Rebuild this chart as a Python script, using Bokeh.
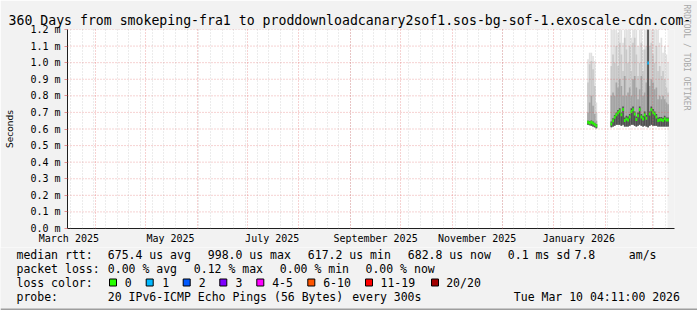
import pandas as pd
from bokeh.plotting import figure
from bokeh.layouts import column
from bokeh.models import (Range1d, FixedTicker, Grid, Title, ColumnDataSource, PrintfTickFormatter,
                          BoxAnnotation)
from bokeh.core.properties import value
from bokeh.embed import file_html
from bokeh.resources import INLINE

# ---------------- data ----------------
END = "2026-03-10 04:11:00"
SPAN_DAYS = 360

title_text = "360 Days from smokeping-fra1 to proddownloadcanary2sof1.sos-bg-sof-1.exoscale-cdn.com-"
watermark = "RRDTOOL / TOBI OETIKER"
y_title = "Seconds"

x_label_months = ["2025-03-01", "2025-05-01", "2025-07-01", "2025-09-01", "2025-11-01", "2026-01-01"]
x_label_texts = ["March 2025", "May 2025", "July 2025", "September 2025", "November 2025", "January 2026"]
y_ticks = [0.0, 0.1, 0.2, 0.3, 0.4, 0.5, 0.6, 0.7, 0.8, 0.9, 1.0, 1.1, 1.2]

# cluster A: Jan 21 - Jan 26 2026 (daily, values in ms)
days_a = ["2026-01-21", "2026-01-22", "2026-01-23", "2026-01-24", "2026-01-25", "2026-01-26"]
median_a = [0.640, 0.636, 0.641, 0.634, 0.627, 0.620]
loss_a = [0, 0, 0, 0, 0, 0]
lo_a = [0.625, 0.622, 0.620, 0.615, 0.610, 0.605]
dark_a = [0.650, 0.648, 0.652, 0.645, 0.638, 0.630]
mid_a = [0.700, 0.760, 0.800, 0.740, 0.690, 0.650]
light_a = [0.880, 0.990, 1.010, 0.960, 0.860, 0.700]
hi_a = [1.020, 1.060, 1.060, 1.040, 1.010, 0.760]

# cluster B: Feb 4 - Mar 10 2026 (daily, values in ms)
first_day_b = "2026-02-04"
median_b = [0.630, 0.650, 0.671, 0.686, 0.698, 0.708, 0.686, 0.718, 0.652, 0.660,
            0.655, 0.672, 0.705, 0.716, 0.690, 0.658, 0.680, 0.718, 0.672, 0.660,
            0.684, 0.665, 0.998, 0.690, 0.716, 0.700, 0.690, 0.672, 0.652, 0.655,
            0.656, 0.651, 0.662, 0.655, 0.655]
loss_b = [0] * 22 + [1] + [0] * 12
lo_b = [0.610, 0.615, 0.620, 0.625, 0.625, 0.625, 0.620, 0.625, 0.615, 0.615,
        0.615, 0.620, 0.625, 0.625, 0.620, 0.615, 0.620, 0.625, 0.620, 0.615,
        0.620, 0.615, 0.610, 0.620, 0.625, 0.620, 0.620, 0.620, 0.615, 0.615,
        0.615, 0.615, 0.615, 0.615, 0.615]
dark_b = [0.645, 0.665, 0.685, 0.700, 0.715, 0.725, 0.700, 0.735, 0.670, 0.680,
          0.675, 0.690, 0.725, 0.735, 0.705, 0.675, 0.700, 0.735, 0.690, 0.680,
          0.705, 0.685, 1.250, 0.705, 0.735, 0.720, 0.705, 0.690, 0.670, 0.672,
          0.672, 0.668, 0.680, 0.670, 0.670]
mid_b = [0.80, 0.82, 0.80, 0.88, 0.85, 0.90, 0.86, 0.80, 0.92, 0.80,
         0.82, 0.85, 0.80, 0.90, 0.92, 0.85, 0.78, 0.84, 0.92, 0.80,
         0.82, 0.88, 1.25, 0.86, 0.90, 0.88, 0.84, 0.85, 0.78, 0.80,
         0.78, 0.80, 0.78, 0.76, 0.75]
light_b = [0.98, 1.05, 1.00, 1.10, 0.98, 1.12, 1.05, 0.95, 1.15, 1.08,
           1.00, 1.10, 0.95, 1.12, 1.15, 1.05, 0.92, 1.00, 1.12, 0.95,
           1.08, 1.10, 1.25, 1.10, 1.12, 1.05, 1.00, 1.10, 0.95, 0.98,
           0.92, 0.95, 0.90, 0.85, 0.82]
hi_b = [1.25, 1.25, 1.22, 1.25, 1.18, 1.25, 1.25, 1.12, 1.25, 1.25,
        1.20, 1.25, 1.15, 1.25, 1.25, 1.25, 1.10, 1.22, 1.25, 1.08,
        1.25, 1.25, 1.25, 1.25, 1.25, 1.25, 1.25, 1.22, 1.25, 1.12,
        1.15, 1.06, 1.10, 1.05, 1.00]

loss_labels = ["0", "1", "2", "3", "4-5", "6-10", "11-19", "20/20"]
loss_colors = ["#26ff00", "#00b8ff", "#0059ff", "#7e00ff", "#ff00ff", "#ff5500", "#ff0000", "#a10000"]

legend_rows = [
    ["median rtt:", "675.4 us avg", "998.0 us max", "617.2 us min", "682.8 us now", "0.1 ms sd", "7.8", "am/s"],
    ["packet loss:", "0.00 % avg", "0.12 % max", "0.00 % min", "0.00 % now"],
    ["loss color:"],
    ["probe:", "20 IPv6-ICMP Echo Pings (56 Bytes)", "every 300s", "Tue Mar 10 04:11:00 2026"],
]

# ---------------- layout constants (page pixels) ----------------
DAY = 86400000
W, H = 697, 310
CL, CR, CT, CB = 67, 667, 29, 228   # white graph canvas (data area)
FR = 674                            # frame extended a little to the right, like rrdtool's axis
H1 = 247                            # height of the chart part; legend part below
BACK = "#f2f2f2"
MONO = "DejaVu Sans Mono"


def ms(t):
    return int(pd.Timestamp(t).value // 10**6)


end_t = pd.Timestamp(END)
start_t = end_t - pd.Timedelta(days=SPAN_DAYS)
x0, x1 = ms(start_t), ms(end_t)
ms_per_px = (x1 - x0) / (CR - CL)

days_b = [pd.Timestamp(first_day_b) + pd.Timedelta(days=i) for i in range(len(median_b))]
all_days = [pd.Timestamp(d) for d in days_a] + days_b
src = ColumnDataSource(dict(
    x=[ms(d) + DAY // 2 for d in all_days],
    median=median_a + median_b,
    lo=lo_a + lo_b, dark=dark_a + dark_b, mid=mid_a + mid_b,
    light=light_a + light_b, hi=hi_a + hi_b,
    color=[loss_colors[l] for l in loss_a + loss_b],
))

month_starts = [ms(d) for d in pd.date_range("2025-04-01", "2026-03-01", freq="MS")]
mondays = [ms(d) for d in pd.date_range("2025-03-17", "2026-03-09", freq="7D")]
label_ticks = [ms(pd.Timestamp(m) + pd.Timedelta(days=15)) for m in x_label_months]

# ---------------- chart figure ----------------
p = figure(width=W, height=H1, output_backend="svg", toolbar_location=None,
           x_axis_type="datetime",
           x_range=Range1d(x0, x1 + (FR - CR) * ms_per_px),
           y_range=Range1d(0, 1.2),
           min_border_left=CL, min_border_right=W - FR, min_border_top=CT, min_border_bottom=H1 - CB,
           background_fill_color=BACK, border_fill_color=BACK, outline_line_color=None)
p.frame_align = False
p.xgrid.visible = False
p.ygrid.visible = False

# white graph canvas
p.add_layout(BoxAnnotation(left=x0, right=x1, bottom=0, top=1.2, fill_color="white", fill_alpha=1.0,
                           line_color=None, level="underlay"))

# smoke
p.vbar(x="x", width=DAY, bottom="lo", top="hi", source=src, fill_color="#e0e0e0", line_color=None)
p.vbar(x="x", width=DAY, bottom="lo", top="light", source=src, fill_color="#c8c8c8", line_color=None)
p.vbar(x="x", width=DAY, bottom="lo", top="mid", source=src, fill_color="#a4a4a4", line_color=None)
p.vbar(x="x", width=DAY, bottom="lo", top="dark", source=src, fill_color="#505050", line_color=None)
# median, coloured by loss
p.rect(x="x", y="median", width=DAY, height=3, height_units="screen", source=src,
       fill_color="color", line_color=None)

# grids drawn on top of the data, as rrdtool does
p.add_layout(Grid(dimension=0, ticker=FixedTicker(ticks=mondays), grid_line_color="#8f8f8f",
                  grid_line_alpha=0.35, grid_line_dash="1 2", level="annotation"))
p.add_layout(Grid(dimension=0, ticker=FixedTicker(ticks=month_starts), grid_line_color="#de5050",
                  grid_line_alpha=0.5, grid_line_dash="1 2", level="annotation"))
p.segment(x0=[x0] * len(y_ticks), x1=[x1 + 2 * ms_per_px] * len(y_ticks), y0=y_ticks, y1=y_ticks,
          line_color="#de5050", line_alpha=0.5, line_dash="1 2", line_width=1)

# x axis
xa = p.xaxis[0]
xa.ticker = FixedTicker(ticks=label_ticks)
xa.major_label_overrides = {t: s for t, s in zip(label_ticks, x_label_texts)}
xa.major_tick_in = 0
xa.major_tick_out = 0
xa.minor_tick_line_color = None
xa.major_tick_line_color = None
xa.axis_line_color = "#1f1f1f"
xa.major_label_text_font = MONO
xa.major_label_text_font_size = "10px"
xa.major_label_text_color = "black"
xa.major_label_standoff = 4

# y axis
ya = p.yaxis[0]
ya.ticker = FixedTicker(ticks=y_ticks)
ya.formatter = PrintfTickFormatter(format="%.1f m")
ya.major_tick_in = 0
ya.major_tick_out = 3
ya.major_tick_line_color = "#de5050"
ya.major_tick_line_alpha = 0.6
ya.minor_tick_line_color = None
ya.axis_line_color = "#1f1f1f"
ya.major_label_text_font = MONO
ya.major_label_text_font_size = "10px"
ya.major_label_text_color = "black"
ya.major_label_standoff = 4
ya.axis_label = y_title
ya.axis_label_text_font = "DejaVu Sans"
ya.axis_label_text_font_size = "9px"
ya.axis_label_text_font_style = "normal"
ya.axis_label_text_color = "black"
ya.axis_label_standoff = 12

# title and vertical watermark in side panels
p.add_layout(Title(text=title_text, text_font=MONO, text_font_size="13.2px", text_font_style="normal",
                   text_color="black", align="left", offset=8 - CL, standoff=3), "above")
p.add_layout(Title(text=watermark, text_font=MONO, text_font_size="8px", text_font_style="normal",
                   text_color="#a8a8a8", align="left", vertical_align="top", offset=4 - CT,
                   standoff=11), "right")

# ---------------- legend figure (page pixel coordinates) ----------------
q = figure(width=W, height=H - H1, output_backend="svg", toolbar_location=None,
           x_range=Range1d(0, W), y_range=Range1d(H, H1),
           x_axis_location=None, y_axis_location=None,
           min_border=0, min_border_left=0, min_border_right=0, min_border_top=0, min_border_bottom=0,
           background_fill_color=BACK, border_fill_color=BACK, outline_line_color=None)
q.frame_align = False
q.grid.visible = False

row_y = [254, 268, 282, 296]
row_x = [
    [16, 107.3, 207.3, 307.3, 407.3, 507.3, 574, 628.3],
    [16, 107.3, 193.3, 279.3, 365],
    [16],
    [16, 107.3, 351.7, 513.3],
]
tx, ty, tt = [], [], []
for y, xs, texts in zip(row_y, row_x, legend_rows):
    for x, s in zip(xs, texts):
        tx.append(x); ty.append(y); tt.append(s)

box_x = [109, 145.7, 182.7, 219.3, 256.3, 307.3, 365, 431]
lab_x = [124.3, 161.7, 198.3, 235, 271.7, 322.7, 380, 445.7]
for lx, s in zip(lab_x, loss_labels):
    tx.append(lx); ty.append(282); tt.append(s)

q.text(x=tx, y=ty, text=tt, text_font=value(MONO), text_font_size=value("11.5px"),
       text_baseline="middle", text_align="left", text_color="black")
q.quad(left=box_x, right=[b + 7 for b in box_x], top=[278.5] * len(box_x), bottom=[285.5] * len(box_x),
       fill_color=loss_colors, line_color="black", line_width=1)
# bottom shade of the image frame
q.quad(left=[0], right=[W], top=[H - 2], bottom=[H], fill_color="#9e9e9e", line_color=None)

layout = column(p, q, spacing=0)
open("out.html", "w").write(file_html(layout, INLINE))
